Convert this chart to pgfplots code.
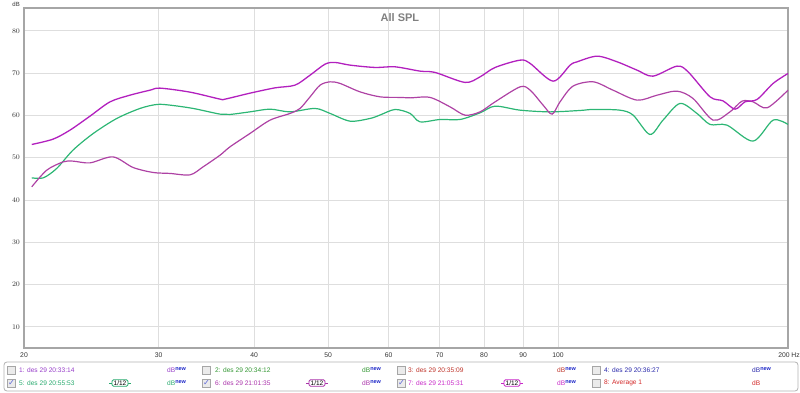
\documentclass[border=0pt]{standalone}
\usepackage{pgfplots}
\pgfplotsset{compat=1.18}
\usepackage{pgfplotstable}
\usepackage{fontspec}
\setmainfont{Liberation Sans}
\newfontfamily\dejavu{DejaVu Sans}

\definecolor{cgreen}{RGB}{44,182,116}
\definecolor{ctop}{RGB}{178,32,190}
\definecolor{cmid}{RGB}{174,66,164}
\definecolor{l1}{RGB}{150,60,200}
\definecolor{l2}{RGB}{50,150,50}
\definecolor{l3}{RGB}{190,50,40}
\definecolor{l4}{RGB}{40,40,170}
\definecolor{l5}{RGB}{40,170,110}
\definecolor{l6}{RGB}{170,50,170}
\definecolor{l7}{RGB}{200,40,200}
\definecolor{l8}{RGB}{210,40,40}
\definecolor{newblue}{RGB}{30,40,200}

% 7: top curve
\pgfplotstableread{
f db
20.47 53.13
21.83 54.39
22.97 56.52
24.40 59.83
25.92 63.21
27.53 64.79
29.24 65.97
30.13 66.45
32.99 65.50
36.11 63.85
36.66 63.85
39.52 65.26
42.62 66.52
45.26 67.16
47.36 69.52
49.55 72.12
51.06 72.52
53.43 71.89
57.61 71.34
61.19 71.49
65.98 70.47
69.04 70.16
75.57 67.80
79.06 69.12
82.72 71.34
89.20 73.07
91.93 72.29
98.53 68.10
103.7 71.89
105.9 72.67
112.5 74.01
119.5 72.67
126.9 70.70
133.1 69.28
143.1 71.65
148.0 70.30
158.1 64.39
164.4 63.44
170.5 61.48
175.7 63.21
182.2 63.78
191.2 67.56
200.0 69.92
}\toptable

% 6: middle curve
\pgfplotstableread{
f db
20.47 43.11
21.42 47.06
22.51 49.02
23.18 49.19
24.40 48.78
26.15 50.20
27.78 47.69
29.50 46.51
31.05 46.28
32.99 45.95
34.31 47.84
36.11 50.60
37.21 52.57
39.52 55.73
41.98 58.88
44.59 60.47
45.95 61.65
47.36 64.39
48.81 67.16
50.30 67.94
51.84 67.56
55.06 65.57
58.49 64.39
62.12 64.25
64.02 64.15
68.00 64.25
72.23 62.02
75.57 60.06
79.06 60.84
82.72 63.21
89.20 66.76
91.93 65.97
95.60 62.43
98.23 60.30
100.6 63.21
104.6 66.92
111.2 67.94
118.0 65.97
126.9 63.61
134.8 64.79
143.1 65.74
150.2 64.01
159.6 58.88
167.9 60.84
174.1 63.37
180.0 63.21
187.8 61.79
200.0 65.97
}\midtable

% 5: green curve
\pgfplotstableread{
f db
20.47 45.24
21.20 45.24
22.07 47.46
23.18 51.79
24.64 55.73
26.45 59.28
28.37 61.65
29.84 62.59
31.05 62.43
33.29 61.65
36.11 60.30
37.21 60.23
39.52 60.84
41.98 61.48
44.59 60.84
48.08 61.65
50.30 60.47
53.43 58.64
56.75 59.28
58.49 60.10
61.19 61.40
64.02 60.47
65.98 58.48
70.08 59.04
74.44 59.04
79.06 60.61
82.72 62.19
89.20 61.24
97.64 60.84
106.9 61.17
111.2 61.41
120.5 61.24
125.4 60.06
131.9 55.50
137.2 58.88
144.4 62.83
152.0 60.47
158.1 57.86
166.4 57.70
180.0 53.92
191.2 58.88
200.0 57.86
}\greentable

\newcommand{\dBnew}[1]{{\color{#1}dB}\raisebox{1.6pt}{\fontsize{5.5}{6}\selectfont\bfseries\color{newblue}new}}

\begin{document}
\begin{tikzpicture}[x=1pt,y=1pt]
\path[use as bounding box] (-24,-45) rectangle (776,348);
\begin{axis}[
  at={(0,0)}, anchor=south west,
  scale only axis, width=764pt, height=340pt,
  xmode=log, xmin=20, xmax=200, ymin=5, ymax=85.4,
  xtick={20,30,40,50,60,70,80,90,100,200},
  xticklabels={20,30,40,50,60,70,80,90,100,{}},
  minor xtick={},
  ytick={10,20,30,40,50,60,70,80},
  grid=major,
  major grid style={draw=black!13, line width=0.9pt},
  axis line style={draw=black!35, line width=1.6pt},
  major tick length=0pt, minor tick length=0pt,
  tick label style={font=\fontsize{6.8}{7}\selectfont, color=black!80},
  xticklabel style={yshift=-1pt},
  yticklabel style={xshift=-0.5pt},
  clip=true,
]
\addplot[cgreen, line width=1.2pt, smooth, tension=0.5] table[x=f,y=db] {\greentable};
\addplot[cmid, line width=1.2pt, smooth, tension=0.5] table[x=f,y=db] {\midtable};
\addplot[ctop, line width=1.3pt, smooth, tension=0.5] table[x=f,y=db] {\toptable};
\node[anchor=north, font=\fontsize{11}{12}\selectfont\bfseries, text=black!50, inner sep=0pt] at (rel axis cs:0.492,0.985) {All SPL};
\end{axis}
\node[anchor=east, font=\fontsize{6}{7}\selectfont, text=black!80, inner sep=0pt] at (-4,344) {dB};
\node[anchor=east, font=\fontsize{6.8}{7}\selectfont, text=black!80, inner sep=0pt] at (776,-7.3) {200 Hz};
% legend box
\draw[black!30, rounded corners=3pt, line width=0.8pt] (-20,-14) rectangle (774,-43);
\tikzset{cb/.style={draw=black!35, fill=black!8, minimum size=8pt, inner sep=0pt, line width=0.5pt},
  lt/.style={anchor=west, font=\fontsize{6.6}{7}\selectfont, inner sep=0pt},
  cal/.style={draw=#1, rounded corners=1.5pt, line width=0.9pt, inner sep=0.9pt, font=\fontsize{6.5}{7}\selectfont, text=black}}
\foreach \cx in {-13,182,377,572} {
  \node[cb] at (\cx,-22) {};
  \node[cb] at (\cx,-35) {};
}
\foreach \cx in {-13,182,377} {
  \node[font=\dejavu\fontsize{8}{8}\selectfont, text=newblue!70, inner sep=0pt] at (\cx+0.5,-35) {✓};
}
% row 1
\node[lt, text=l1] at (-5,-22) {1: des 29 20:33:14};
\node[lt] at (143,-22) {\dBnew{l1}};
\node[lt, text=l2] at (191,-22) {2: des 29 20:34:12};
\node[lt] at (338,-22) {\dBnew{l2}};
\node[lt, text=l3] at (384,-22) {3: des 29 20:35:09};
\node[lt] at (533,-22) {\dBnew{l3}};
\node[lt, text=l4] at (580,-22) {4: des 29 20:36:27};
\node[lt] at (728,-22) {\dBnew{l4}};
% row 2
\node[lt, text=l5] at (-5,-35) {5: des 29 20:55:53};
\node[lt] at (143,-35) {\dBnew{l5}};
\node[lt, text=l6] at (191,-35) {6: des 29 21:01:35};
\node[lt] at (338,-35) {\dBnew{l6}};
\node[lt, text=l7] at (384,-35) {7: des 29 21:05:31};
\node[lt] at (533,-35) {\dBnew{l7}};
\node[lt, text=l8] at (580,-35) {8: Average 1};
\node[lt, text=l8] at (728,-35) {dB};
% calibration icons
\foreach \cx/\cc in {96/l5,293/l6,488/l7} {
  \draw[\cc, line width=0.9pt] (\cx-11,-35) -- (\cx+11,-35);
  \node[cal=\cc, fill=white, minimum width=16pt] at (\cx,-35) {1/12};
}
\end{tikzpicture}
\end{document}
